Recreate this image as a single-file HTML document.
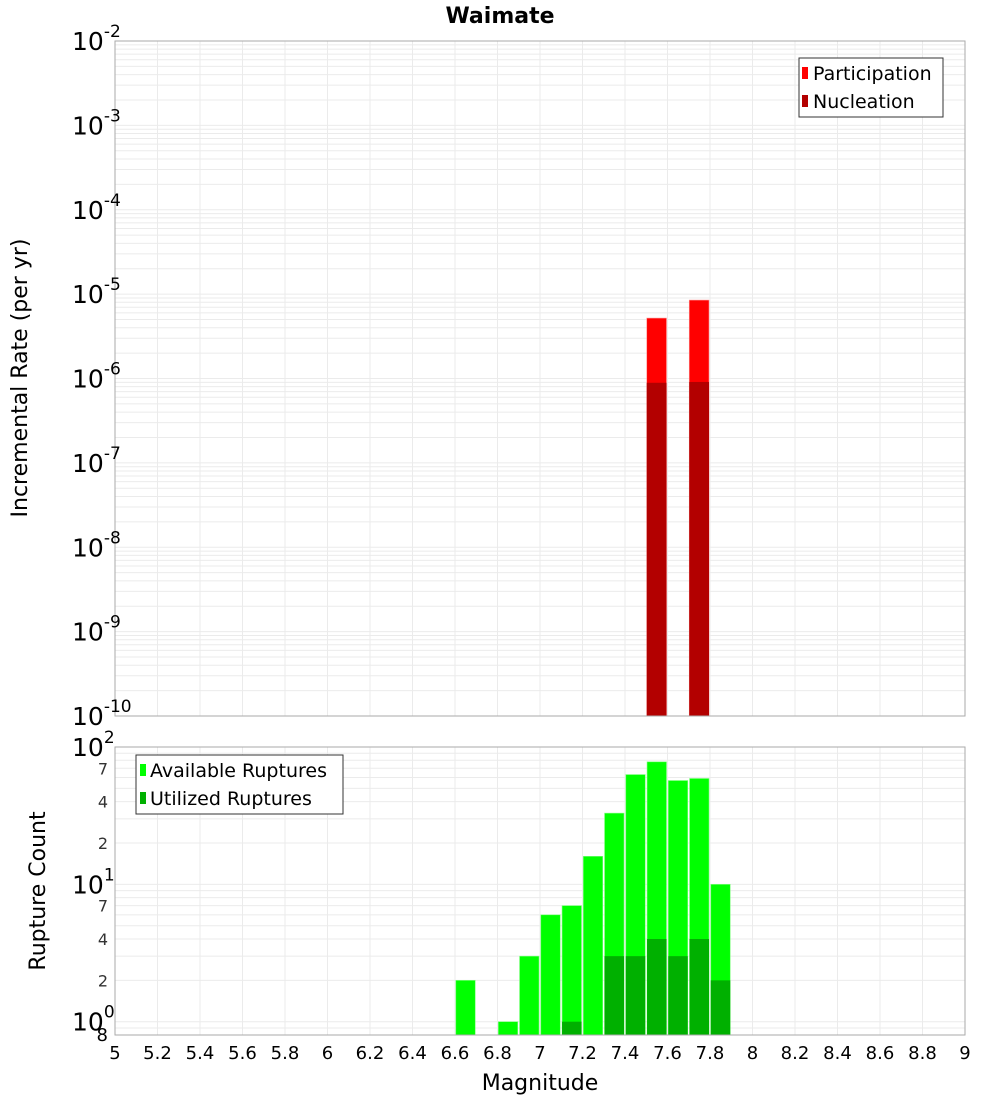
<!DOCTYPE html>
<html><head><meta charset="utf-8"><style>
body{margin:0;background:#fff;}
svg{display:block;font-family:"Liberation Sans","DejaVu Sans",sans-serif;}
</style></head><body>
<svg id="chart" width="1000" height="1100" xmlns="http://www.w3.org/2000/svg">
<text x="500" y="23" text-anchor="middle" font-size="22" font-weight="bold" font-family="DejaVu Sans, sans-serif">Waimate</text>
<g id="gtop"></g><g id="gbot"></g><g id="gxaxis"></g>
<text transform="translate(27,378) rotate(-90)" text-anchor="middle" font-size="22" font-family="DejaVu Sans, sans-serif">Incremental Rate (per yr)</text>
<text transform="translate(45,891) rotate(-90)" text-anchor="middle" font-size="22" font-family="DejaVu Sans, sans-serif">Rupture Count</text>
<text x="540" y="1090" text-anchor="middle" font-size="22" font-family="DejaVu Sans, sans-serif">Magnitude</text>
<g>
<rect x="799" y="58" width="144" height="59" fill="#fff" stroke="#333"/>
<rect x="802" y="67" width="6" height="12" fill="#ff0000"/>
<text x="813" y="80" font-size="19" font-family="DejaVu Sans, sans-serif">Participation</text>
<rect x="802" y="95" width="6" height="12" fill="#b30000"/>
<text x="813" y="108" font-size="19" font-family="DejaVu Sans, sans-serif">Nucleation</text>
</g>
<g>
<rect x="136" y="755" width="207" height="59" fill="#fff" stroke="#333"/>
<rect x="140" y="764" width="6" height="12" fill="#00ff00"/>
<text x="150" y="777" font-size="19" font-family="DejaVu Sans, sans-serif">Available Ruptures</text>
<rect x="140" y="792" width="6" height="12" fill="#00b000"/>
<text x="150" y="805" font-size="19" font-family="DejaVu Sans, sans-serif">Utilized Ruptures</text>
</g>
</svg>
<script>
const rateMags=[7.55,7.75];
const participation=[5.2e-6,8.5e-6];
const nucleation=[8.9e-7,9.1e-7];
const countMags=[6.65,6.85,6.95,7.05,7.15,7.25,7.35,7.45,7.55,7.65,7.75,7.85];
const available=[2,1,3,6,7,16,33,63,78,57,59,10];
const utilized=[0,0,0,0,1,0,3,3,4,3,4,2];
const xTicks=[5,5.2,5.4,5.6,5.8,6,6.2,6.4,6.6,6.8,7,7.2,7.4,7.6,7.8,8,8.2,8.4,8.6,8.8,9];
const topExps=[-2,-3,-4,-5,-6,-7,-8,-9,-10];
const botMinor=[2,4,7,20,40,70];

const NS="http://www.w3.org/2000/svg";
const X0=115,X1=965;
const xs=m=>X0+(m-5)/4*(X1-X0);
const T0=41,T1=716;
const yt=v=>T0+(-2-Math.log10(v))/8*(T1-T0);
const B0=747,B1=1035;
const yb=v=>B0+(2-Math.log10(v))/(2-Math.log10(0.8))*(B1-B0);
function el(p,tag,a,txt){const e=document.createElementNS(NS,tag);for(const k in a)e.setAttribute(k,a[k]);if(txt!==undefined)e.textContent=txt;p.appendChild(e);return e;}
const gTop=document.getElementById('gtop'),gBot=document.getElementById('gbot'),gX=document.getElementById('gxaxis');

function plotFrame(g,y0,y1,yf,lo,hi){
  for(let d=lo;d<hi;d++)for(let k=1;k<10;k++){const v=k*Math.pow(10,d);const y=yf(v);if(y<y0||y>y1)continue;
    const l=el(g,'line',{x1:X0,x2:X1,y1:y,y2:y,stroke:'#ebebeb','stroke-width':1});
    
    }
  xTicks.forEach(t=>{const l=el(g,'line',{x1:xs(t),x2:xs(t),y1:y0,y2:y1,stroke:'#ebebeb','stroke-width':1});
    
    });
}
plotFrame(gTop,T0,T1,yt,-10,-1);
plotFrame(gBot,B0,B1,yb,-1,2);

const bw=0.1;
rateMags.forEach((m,i)=>{
  const x=xs(m-bw/2)+0.5,w=xs(m+bw/2)-xs(m-bw/2)-1.5;
  const p=el(gTop,'rect',{x:x,y:yt(participation[i]),width:w,height:T1-yt(participation[i]),fill:'#ff0000',stroke:'#ff9090','stroke-width':0.6});
  
  
  const n=el(gTop,'rect',{x:x,y:yt(nucleation[i]),width:w,height:T1-yt(nucleation[i]),fill:'#b30000'});
  
  
});
countMags.forEach((m,i)=>{
  const x=xs(m-bw/2)+0.8,w=xs(m+bw/2)-xs(m-bw/2)-1.8;
  if(available[i]>0){const a=el(gBot,'rect',{x:x,y:yb(available[i]),width:w,height:B1-yb(available[i]),fill:'#00ff00',stroke:'#80ff80','stroke-width':0.6});
    
    }
  if(utilized[i]>0){const u=el(gBot,'rect',{x:x,y:yb(utilized[i]),width:w,height:B1-yb(utilized[i]),fill:'#00b000'});
    
    }
});
el(gTop,'rect',{x:X0,y:T0,width:X1-X0,height:T1-T0,fill:'none',stroke:'#aaa'});
el(gBot,'rect',{x:X0,y:B0,width:X1-X0,height:B1-B0,fill:'none',stroke:'#aaa'});

function expLabel(g,y,e,name){
  const t=el(g,'text',{x:72,y:y+9,'font-size':25,'font-family':'DejaVu Sans, sans-serif'});
  
  
  el(t,'tspan',{},'10');
  el(t,'tspan',{dy:-13,'font-size':17},String(e));
}
topExps.forEach(e=>expLabel(gTop,yt(Math.pow(10,e)),e,'top-y-tick-label'));
[2,1,0].forEach(e=>expLabel(gBot,yb(Math.pow(10,e)),e,'bottom-y-tick-label'));
botMinor.forEach(v=>{const t=el(gBot,'text',{x:108,y:yb(v)+6,'font-size':16,'text-anchor':'end',fill:'#333','font-family':'DejaVu Sans, sans-serif'},String(v)[0]);
  
  });
{const t=el(gBot,'text',{x:108,y:yb(0.8)+6,'font-size':18,'text-anchor':'end','font-family':'DejaVu Sans, sans-serif'},'8');
  
  }
xTicks.forEach(t=>{const s=el(gX,'text',{x:xs(t),y:1059,'font-size':18,'text-anchor':'middle','font-family':'DejaVu Sans, sans-serif'},String(t));
  
  });
</script>
</body></html>
